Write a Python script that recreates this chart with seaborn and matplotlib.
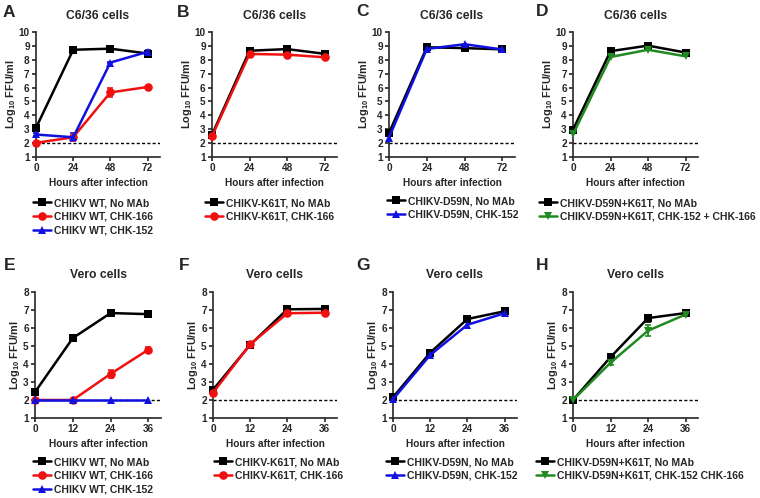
import numpy as np
import pandas as pd
import matplotlib
matplotlib.use("Agg")
import matplotlib.pyplot as plt
import seaborn as sns

sns.set_style("ticks")
plt.rcParams["font.family"] = ["Liberation Sans", "DejaVu Sans"]
plt.rcParams["font.weight"] = "bold"
plt.rcParams["axes.labelweight"] = "bold"
plt.rcParams["axes.titleweight"] = "bold"
plt.rcParams["mathtext.fontset"] = "custom"
plt.rcParams["mathtext.rm"] = "Liberation Sans:bold"
plt.rcParams["mathtext.bf"] = "Liberation Sans:bold"
plt.rcParams["mathtext.default"] = "bf"

# ---------------- data ----------------
hours_c636 = [0, 24, 48, 72]
hours_vero = [0, 12, 24, 36]

# A: C6/36, CHIKV WT
a_labels = ["CHIKV WT, No MAb", "CHIKV WT, CHK-166", "CHIKV WT, CHK-152"]
a_nomab = [3.1, 8.72, 8.8, 8.45]
a_chk166 = [2.02, 2.42, 5.65, 6.04]
a_chk152 = [2.62, 2.42, 7.8, 8.57]
a_err_nomab = [0.15, 0.08, 0.08, 0.12]
a_err_chk166 = [0.08, 0.08, 0.35, 0.06]
a_err_chk152 = [0.08, 0.3, 0.06, 0.1]

# B: C6/36, CHIKV-K61T
b_labels = ["CHIKV-K61T, No MAb", "CHIKV-K61T, CHK-166"]
b_nomab = [2.6, 8.65, 8.77, 8.43]
b_chk166 = [2.5, 8.42, 8.37, 8.18]

# C: C6/36, CHIKV-D59N
c_labels = ["CHIKV-D59N, No MAb", "CHIKV-D59N, CHK-152"]
c_nomab = [2.73, 8.9, 8.84, 8.75]
c_chk152 = [2.4, 8.78, 9.12, 8.74]

# D: C6/36, CHIKV-D59N+K61T
d_labels = ["CHIKV-D59N+K61T, No MAb", "CHIKV-D59N+K61T, CHK-152 + CHK-166"]
d_nomab = [2.97, 8.62, 9.02, 8.52]
d_combo = [2.62, 8.2, 8.72, 8.25]

# E: Vero, CHIKV WT
e_labels = ["CHIKV WT, No MAb", "CHIKV WT, CHK-166", "CHIKV WT, CHK-152"]
e_nomab = [2.44, 5.44, 6.83, 6.77]
e_chk166 = [2.0, 2.0, 3.45, 4.8]
e_chk152 = [2.0, 2.0, 2.0, 2.0]
e_err_chk166 = [0.0, 0.0, 0.22, 0.12]

# F: Vero, CHIKV-K61T
f_labels = ["CHIKV-K61T, No MAb", "CHIKV-K61T, CHK-166"]
f_nomab = [2.57, 5.07, 7.04, 7.06]
f_chk166 = [2.4, 5.1, 6.82, 6.85]

# G: Vero, CHIKV-D59N
g_labels = ["CHIKV-D59N, No MAb", "CHIKV-D59N, CHK-152"]
g_nomab = [2.15, 4.63, 6.5, 6.93]
g_chk152 = [2.04, 4.5, 6.18, 6.82]

# H: Vero, CHIKV-D59N+K61T
h_labels = ["CHIKV-D59N+K61T, No MAb", "CHIKV-D59N+K61T, CHK-152 CHK-166"]
h_nomab = [2.0, 4.38, 6.55, 6.83]
h_combo = [2.0, 4.07, 5.85, 6.75]
h_err_nomab = [0.0, 0.06, 0.2, 0.06]
h_err_combo = [0.0, 0.15, 0.3, 0.06]

letters = ["A", "B", "C", "D", "E", "F", "G", "H"]
title_c636 = "C6/36 cells"
title_vero = "Vero cells"
xlabel_text = "Hours after infection"
ylabel_text = r"Log$_{10}$ FFU/ml"

COL = {"black": "#000000", "red": "#f01010", "blue": "#1010e0", "green": "#1f8a1f"}
MARK = {"black": "s", "red": "o", "blue": "^", "green": "v"}

W, H = 760, 498
fig = plt.figure(figsize=(W / 100, H / 100), dpi=100)


def add_ax(l, r, top, bottom):
    return fig.add_axes([l / W, 1 - bottom / H, (r - l) / W, (bottom - top) / H])


panels = [
    dict(letter="A", pos=(36, 160, 32, 157), hours=hours_c636, title=title_c636,
         series=[(a_labels[0], a_nomab, a_err_nomab, "black"),
                 (a_labels[1], a_chk166, a_err_chk166, "red"),
                 (a_labels[2], a_chk152, a_err_chk152, "blue")],
         lx=(3, 5), leg=(33, 198)),
    dict(letter="B", pos=(212, 337, 32, 157), hours=hours_c636, title=title_c636,
         series=[(b_labels[0], b_nomab, None, "black"),
                 (b_labels[1], b_chk166, None, "red")],
         lx=(177, 5), leg=(205, 198)),
    dict(letter="C", pos=(389, 515, 32, 157), hours=hours_c636, title=title_c636,
         series=[(c_labels[0], c_nomab, None, "black"),
                 (c_labels[1], c_chk152, None, "blue")],
         lx=(356, 4), leg=(387, 196)),
    dict(letter="D", pos=(573, 698, 32, 157), hours=hours_c636, title=title_c636,
         series=[(d_labels[0], d_nomab, None, "black"),
                 (d_labels[1], d_combo, None, "green")],
         lx=(536, 4), leg=(539, 198)),
    dict(letter="E", pos=(35, 161, 292, 418), hours=hours_vero, title=title_vero,
         series=[(e_labels[0], e_nomab, None, "black"),
                 (e_labels[1], e_chk166, e_err_chk166, "red"),
                 (e_labels[2], e_chk152, None, "blue")],
         lx=(4, 258), leg=(33, 457)),
    dict(letter="F", pos=(213, 337, 292, 418), hours=hours_vero, title=title_vero,
         series=[(f_labels[0], f_nomab, None, "black"),
                 (f_labels[1], f_chk166, None, "red")],
         lx=(179, 258), leg=(214, 457)),
    dict(letter="G", pos=(393, 517, 292, 418), hours=hours_vero, title=title_vero,
         series=[(g_labels[0], g_nomab, None, "black"),
                 (g_labels[1], g_chk152, None, "blue")],
         lx=(356, 258), leg=(386, 457)),
    dict(letter="H", pos=(573, 698, 292, 418), hours=hours_vero, title=title_vero,
         series=[(h_labels[0], h_nomab, h_err_nomab, "black"),
                 (h_labels[1], h_combo, h_err_combo, "green")],
         lx=(536, 258), leg=(536, 457)),
]

for p in panels:
    ax = add_ax(*p["pos"])
    hours = p["hours"]
    rows = []
    for lab, vals, err, col in p["series"]:
        for h, v in zip(hours, vals):
            rows.append(dict(hour=h, value=v, series=lab))
    df = pd.DataFrame(rows)
    order = [s[0] for s in p["series"]]
    palette = {s[0]: COL[s[3]] for s in p["series"]}
    markers = {s[0]: MARK[s[3]] for s in p["series"]}
    sns.lineplot(data=df, x="hour", y="value", hue="series", style="series",
                 hue_order=order, style_order=order, palette=palette,
                 markers=markers, dashes=False, linewidth=1.8, markersize=6.2,
                 markeredgewidth=0, ax=ax, legend=True, clip_on=False, zorder=3)
    for lab, vals, err, col in p["series"]:
        if err is not None:
            ax.errorbar(hours, vals, yerr=err, fmt="none", ecolor=COL[col],
                        elinewidth=1.2, capsize=2.5, capthick=1.2, zorder=2,
                        clip_on=False)

    is_top = hours[-1] == 72
    xmax = 80 if is_top else 40
    ymax = 10 if is_top else 8
    ax.axhline(2, color="black", lw=1.0, ls=(0, (2.2, 1.6)), zorder=1)
    ax.set_xlim(0, xmax)
    ax.set_ylim(1, ymax)
    ax.set_xticks(hours)
    ax.set_yticks(range(1, ymax + 1))
    for s in ["top", "right"]:
        ax.spines[s].set_visible(False)
    for s in ["left", "bottom"]:
        ax.spines[s].set_linewidth(1.2)
    ax.tick_params(axis="both", direction="out", length=3, width=1.2,
                   labelsize=7.2, pad=1.5)
    for t in ax.get_xticklabels() + ax.get_yticklabels():
        t.set_fontweight("bold")
    ax.set_xlabel(xlabel_text, fontsize=7.3, fontweight="bold", labelpad=3.5)
    ax.set_ylabel(ylabel_text, fontsize=7.8, fontweight="bold", labelpad=0.5)
    ax.set_title(p["title"], fontsize=8.7, fontweight="bold",
                 pad=9.5 if is_top else 10)

    handles, labels = ax.get_legend_handles_labels()
    ax.get_legend().remove()
    lx, ly = p["leg"]
    fig.legend(handles, labels, loc="upper left",
               bbox_to_anchor=(lx / W, 1 - ly / H), frameon=False,
               prop=dict(weight="bold", size=7.5),
               handlelength=1.7, handletextpad=0.35, labelspacing=0.36,
               borderpad=0, borderaxespad=0)

    fx, fy = p["lx"]
    fig.text(fx / W, 1 - fy / H, p["letter"], fontsize=12.5, fontweight="bold",
             va="top", ha="left")

fig.savefig("out.png", dpi=100)
